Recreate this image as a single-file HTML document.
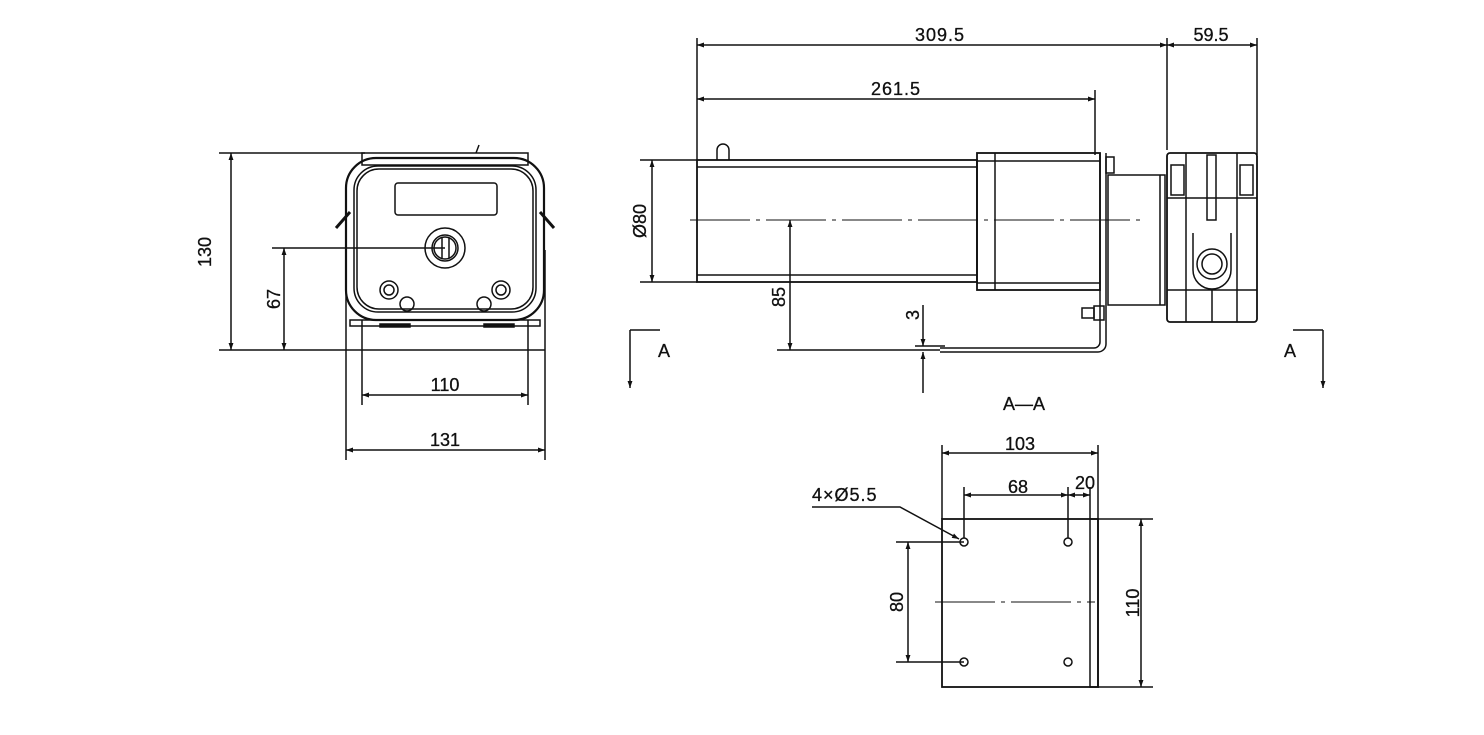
<!DOCTYPE html>
<html><head><style>
html,body{margin:0;padding:0;background:#fff}
svg{display:block}
text{font-family:"Liberation Sans",sans-serif;font-size:18px;fill:#111;stroke:#111;stroke-width:0.3}
</style></head><body>
<svg width="1484" height="735" viewBox="0 0 1484 735" xmlns="http://www.w3.org/2000/svg">
<defs>
<marker id="a" viewBox="0 0 10 10" refX="10" refY="5" markerWidth="16" markerHeight="7" markerUnits="userSpaceOnUse" orient="auto-start-reverse"><path d="M0,1.5 L10,5 L0,8.5 Z" fill="#111"/></marker>
</defs>
<g stroke="#111" fill="none" stroke-width="1.5">
<!-- FRONT VIEW -->
<line x1="219" y1="153" x2="365" y2="153"/>
<line x1="219" y1="350" x2="545" y2="350"/>
<line x1="231" y1="153" x2="231" y2="350" marker-start="url(#a)" marker-end="url(#a)"/>
<line x1="272" y1="248" x2="445" y2="248"/>
<line x1="284" y1="248" x2="284" y2="350" marker-start="url(#a)" marker-end="url(#a)"/>
<line x1="362" y1="320" x2="362" y2="405"/><line x1="528" y1="320" x2="528" y2="405"/>
<line x1="362" y1="395" x2="528" y2="395" marker-start="url(#a)" marker-end="url(#a)"/>
<line x1="346" y1="250" x2="346" y2="460"/><line x1="545" y1="250" x2="545" y2="460"/>
<line x1="346" y1="450" x2="545" y2="450" marker-start="url(#a)" marker-end="url(#a)"/>
<rect x="362" y="153" width="166" height="12"/>
<line x1="476" y1="153" x2="479" y2="145"/>
<rect x="350" y="320" width="190" height="6"/>
<rect x="380" y="324" width="30" height="3" fill="#111"/>
<rect x="484" y="324" width="30" height="3" fill="#111"/>
<rect x="346" y="158" width="198" height="162" rx="30" stroke-width="2.2"/>
<rect x="354" y="166" width="182" height="146" rx="24"/>
<rect x="357" y="169" width="176" height="140" rx="22"/>
<line x1="336" y1="228" x2="350" y2="212" stroke-width="3"/>
<line x1="554" y1="228" x2="540" y2="212" stroke-width="3"/>
<rect x="395" y="183" width="102" height="32" rx="3"/>
<circle cx="445" cy="248" r="20"/><circle cx="445" cy="248" r="13"/><circle cx="445" cy="248" r="11"/>
<line x1="442" y1="238" x2="442" y2="258"/><line x1="449" y1="238" x2="449" y2="258"/>
<circle cx="389" cy="290" r="9"/><circle cx="389" cy="290" r="5"/>
<circle cx="501" cy="290" r="9"/><circle cx="501" cy="290" r="5"/>
<circle cx="407" cy="304" r="7"/><circle cx="484" cy="304" r="7"/>
<!-- SIDE VIEW -->
<line x1="697" y1="38" x2="697" y2="160"/><line x1="1167" y1="38" x2="1167" y2="150"/><line x1="1257" y1="38" x2="1257" y2="155"/>
<line x1="697" y1="45" x2="1167" y2="45" marker-start="url(#a)" marker-end="url(#a)"/>
<line x1="1167" y1="45" x2="1257" y2="45" marker-start="url(#a)" marker-end="url(#a)"/>
<line x1="1095" y1="90" x2="1095" y2="155"/>
<line x1="697" y1="99" x2="1095" y2="99" marker-start="url(#a)" marker-end="url(#a)"/>
<line x1="640" y1="160" x2="697" y2="160"/><line x1="640" y1="282" x2="697" y2="282"/>
<line x1="652" y1="160" x2="652" y2="282" marker-start="url(#a)" marker-end="url(#a)"/>
<rect x="697" y="160" width="280" height="122" stroke-width="1.8"/>
<line x1="697" y1="167" x2="977" y2="167"/><line x1="697" y1="275" x2="977" y2="275"/>
<path d="M717,160 V150 a6,6 0 0 1 12,0 V160"/>
<rect x="977" y="153" width="123" height="137" stroke-width="1.8"/>
<line x1="995" y1="153" x2="995" y2="290"/>
<line x1="977" y1="161" x2="1100" y2="161"/><line x1="977" y1="283" x2="1100" y2="283"/>
<path d="M1100,153 V342 a6,6 0 0 1 -6,6 H940 M1106,153 V344 a8,8 0 0 1 -8,8 H940" />
<rect x="1106" y="157" width="8" height="16"/>
<rect x="1094" y="306" width="10" height="14"/><rect x="1082" y="308" width="12" height="10"/>
<rect x="1108" y="175" width="57" height="130"/>
<line x1="1160" y1="175" x2="1160" y2="305"/>
<rect x="1167" y="153" width="90" height="169" rx="3" stroke-width="1.8"/>
<line x1="1186" y1="153" x2="1186" y2="322"/><line x1="1237" y1="153" x2="1237" y2="322"/>
<line x1="1167" y1="198" x2="1257" y2="198"/><line x1="1167" y1="290" x2="1257" y2="290"/>
<rect x="1171" y="165" width="13" height="30"/><rect x="1240" y="165" width="13" height="30"/>
<rect x="1207" y="155" width="9" height="65"/>
<line x1="1212" y1="290" x2="1212" y2="322"/>
<path d="M1193,233 V270 a19,19 0 0 0 38,0 V233"/>
<circle cx="1212" cy="264" r="15"/><circle cx="1212" cy="264" r="10"/>
<line x1="690" y1="220" x2="1140" y2="220" stroke-dasharray="60,6,4,6" stroke-width="0.9"/>
<line x1="777" y1="350" x2="940" y2="350"/>
<line x1="790" y1="220" x2="790" y2="350" marker-start="url(#a)" marker-end="url(#a)"/>
<line x1="915" y1="346" x2="945" y2="346"/>
<line x1="923" y1="305" x2="923" y2="346" marker-end="url(#a)"/>
<line x1="923" y1="393" x2="923" y2="352" marker-end="url(#a)"/>
<path d="M630,330 H660 M630,330 V388" marker-end="url(#a)"/>
<path d="M1323,330 H1293 M1323,330 V388" marker-end="url(#a)"/>
<!-- BOTTOM VIEW -->
<rect x="942" y="519" width="156" height="168" stroke-width="1.8"/>
<rect x="1090" y="519" width="8" height="168"/>
<line x1="942" y1="445" x2="942" y2="519"/><line x1="1098" y1="445" x2="1098" y2="519"/>
<line x1="942" y1="453" x2="1098" y2="453" marker-start="url(#a)" marker-end="url(#a)"/>
<line x1="964" y1="487" x2="964" y2="538"/><line x1="1068" y1="487" x2="1068" y2="538"/><line x1="1090" y1="487" x2="1090" y2="519"/>
<line x1="964" y1="495" x2="1068" y2="495" marker-start="url(#a)" marker-end="url(#a)"/>
<line x1="1068" y1="495" x2="1090" y2="495" marker-start="url(#a)" marker-end="url(#a)"/>
<line x1="896" y1="542" x2="964" y2="542"/><line x1="896" y1="662" x2="964" y2="662"/>
<line x1="908" y1="542" x2="908" y2="662" marker-start="url(#a)" marker-end="url(#a)"/>
<line x1="1098" y1="519" x2="1153" y2="519"/><line x1="1098" y1="687" x2="1153" y2="687"/>
<line x1="1141" y1="519" x2="1141" y2="687" marker-start="url(#a)" marker-end="url(#a)"/>
<circle cx="964" cy="542" r="4"/><circle cx="1068" cy="542" r="4"/><circle cx="964" cy="662" r="4"/><circle cx="1068" cy="662" r="4"/>
<line x1="935" y1="602" x2="1095" y2="602" stroke-dasharray="60,6,4,6" stroke-width="0.9"/>
<path d="M812,507 H900 L959,539" marker-end="url(#a)"/>
</g>
<g>
<text x="211" y="252" transform="rotate(-90 211 252)" text-anchor="middle">130</text>
<text x="280" y="299" transform="rotate(-90 280 299)" text-anchor="middle">67</text>
<text x="445" y="391" text-anchor="middle">110</text>
<text x="445" y="446" text-anchor="middle">131</text>
<text x="940" y="41" text-anchor="middle" letter-spacing="1">309.5</text>
<text x="1211" y="41" text-anchor="middle">59.5</text>
<text x="896" y="95" text-anchor="middle" letter-spacing="1">261.5</text>
<text x="646" y="221" transform="rotate(-90 646 221)" text-anchor="middle">Ø80</text>
<text x="785" y="297" transform="rotate(-90 785 297)" text-anchor="middle">85</text>
<text x="919" y="315" transform="rotate(-90 919 315)" text-anchor="middle">3</text>
<text x="664" y="357" text-anchor="middle">A</text>
<text x="1290" y="357" text-anchor="middle">A</text>
<text x="1024" y="410" text-anchor="middle">A—A</text>
<text x="1020" y="450" text-anchor="middle">103</text>
<text x="1018" y="493" text-anchor="middle">68</text>
<text x="1085" y="489" text-anchor="middle">20</text>
<text x="903" y="602" transform="rotate(-90 903 602)" text-anchor="middle">80</text>
<text x="1139" y="603" transform="rotate(-90 1139 603)" text-anchor="middle">110</text>
<text x="812" y="501" letter-spacing="1">4×Ø5.5</text>
</g>
</svg>
</body></html>
